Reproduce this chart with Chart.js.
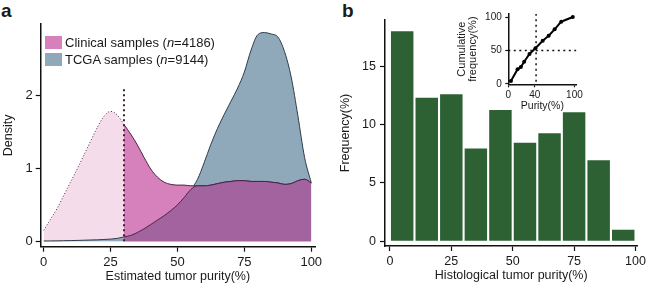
<!DOCTYPE html>
<html lang="en">
  <head>
    <meta charset="UTF-8" />
    <title>Tumor purity</title>
    <script src="https://cdn.jsdelivr.net/npm/chart.js"></script>
    <style>
      body {
        margin: 0;
        width: 649px;
        height: 289px;
        position: relative;
        background: #fff;
        font-family: "Liberation Sans", Arial, sans-serif;
        color: #1a1a1a;
        overflow: hidden;
      }
      .panel {
        position: absolute;
      }
      .tag {
        position: absolute;
        font-weight: bold;
        font-size: 19px;
        line-height: 1;
      }
      .legend {
        position: absolute;
        left: 45px;
        top: 35px;
        font-size: 13px;
      }
      .legend div {
        height: 15px;
        line-height: 15px;
        margin-bottom: 1.5px;
        white-space: nowrap;
      }
      .legend span.box {
        display: inline-block;
        width: 17px;
        height: 13px;
        vertical-align: -2px;
        margin-right: 3px;
      }
    </style>
  </head>
  <body>
    <div class="tag" style="left: 1px; top: 1px">a</div>
    <div class="tag" style="left: 342px; top: 1px">b</div>

    <div class="panel" style="left: 0; top: 0">
      <canvas id="densityChart" width="330" height="289"></canvas>
    </div>
    <div class="legend">
      <div><span class="box" style="background: #d681bb"></span>Clinical samples (<i>n</i>=4186)</div>
      <div><span class="box" style="background: #8fa9bb"></span>TCGA samples (<i>n</i>=9144)</div>
    </div>

    <div class="panel" style="left: 330px; top: 0">
      <canvas id="histChart" width="319" height="289"></canvas>
    </div>
    <div class="panel" style="left: 440px; top: 0">
      <canvas id="cumChart" width="145" height="112"></canvas>
    </div>

    <script>
      // panel a: density of estimated purity
      const purityGrid = [
        0, 2.5, 5, 7.5, 10, 12.5, 15, 17.5, 20, 22.5, 25, 27.5, 30, 32.5, 35,
        37.5, 40, 42.5, 45, 47.5, 50, 52.5, 55, 57.5, 60, 62.5, 65, 67.5, 70,
        72.5, 75, 77.5, 80, 82.5, 85, 87.5, 90, 92.5, 95, 97.5, 100,
      ];
      const clinicalDensity = [
        0.15, 0.3, 0.45, 0.63, 0.81, 0.99, 1.18, 1.37, 1.56, 1.71, 1.78, 1.73,
        1.6, 1.47, 1.32, 1.15, 0.99, 0.88, 0.81, 0.78, 0.77, 0.77, 0.76, 0.76,
        0.76, 0.77, 0.79, 0.81, 0.82, 0.83, 0.83, 0.82, 0.82, 0.82, 0.81, 0.8,
        0.78, 0.79, 0.83, 0.85, 0.8,
      ];
      const tcgaDensity = [
        0.005, 0.005, 0.006, 0.008, 0.01, 0.012, 0.015, 0.018, 0.02, 0.025,
        0.03, 0.04, 0.06, 0.08, 0.12, 0.17, 0.23, 0.29, 0.35, 0.42, 0.5, 0.6,
        0.71, 0.85, 1.08, 1.33, 1.55, 1.74, 1.92, 2.1, 2.32, 2.62, 2.83, 2.86,
        2.84, 2.8, 2.6, 2.25, 1.72, 1.15, 0.8,
      ];
      const cutoffPurity = 30;
      const cutoffTop = 2.1;
      const densityTicksX = [0, 25, 50, 75, 100];
      const densityTicksY = [0, 1, 2];

      // panel b: histological purity histogram
      const histBinMid = [5, 15, 25, 35, 45, 55, 65, 75, 85, 95];
      const histFreq = [18.0, 12.3, 12.6, 7.95, 11.25, 8.45, 9.25, 11.05, 6.95, 1.0];
      const histTicksX = [0, 25, 50, 75, 100];
      const histTicksY = [0, 5, 10, 15];

      // inset: cumulative frequency
      const cumPurity = [4, 14, 19, 24, 32, 41, 52, 61, 70, 80, 97.5];
      const cumFreq = [4.5, 22, 25.4, 33.3, 44.8, 53.3, 64.6, 72.1, 81.6, 93, 100];
      const insetCutoff = 42;
      const insetMedian = 50;
      const insetTicksX = [0, 40, 100];
      const insetTicksY = [0, 50, 100];

      const FONT = "'Liberation Sans', Arial, sans-serif";
      Chart.defaults.font.family = FONT;
      Chart.defaults.color = "#1a1a1a";

      function pts(xs, ys, keep) {
        const out = [];
        xs.forEach((x, i) => {
          if (!keep || keep(x)) out.push({ x: x, y: ys[i] });
        });
        return out;
      }

      function fixedTicks(list) {
        return (s) => {
          s.ticks = list.map((v) => ({ value: v }));
        };
      }

      function axis(opts) {
        return {
          type: "linear",
          min: opts.min,
          max: opts.max,
          offset: false,
          afterBuildTicks: fixedTicks(opts.ticks),
          afterFit: opts.fit,
          grid: {
            display: true,
            drawOnChartArea: false,
            drawTicks: true,
            tickLength: opts.tickLength || 5,
            tickColor: "#111",
            tickWidth: 1.2,
            offset: false,
          },
          border: { display: true, color: "#111", width: 1.5 },
          ticks: {
            padding: opts.pad,
            font: { size: opts.tickSize },
            color: "#1a1a1a",
            maxRotation: 0,
            autoSkip: false,
          },
          title: {
            display: true,
            text: opts.title,
            font: { size: opts.titleSize || 12.5, lineHeight: opts.titleLH || 1.2 },
            padding: opts.titlePad,
            color: "#1a1a1a",
          },
        };
      }

      const overlap = purityGrid.map((x, i) =>
        Math.min(clinicalDensity[i], tcgaDensity[i])
      );

      new Chart(document.getElementById("densityChart"), {
        type: "line",
        data: {
          datasets: [
            {
              data: [
                { x: cutoffPurity, y: 0 },
                { x: cutoffPurity, y: cutoffTop },
              ],
              borderColor: "#3b1d38",
              borderWidth: 2,
              borderDash: [2, 3],
              pointRadius: 0,
              fill: false,
              order: 0,
            },
            {
              data: pts(purityGrid, overlap, (x) => x >= cutoffPurity),
              borderColor: "#4a2448",
              borderWidth: 1,
              backgroundColor: "#a3639f",
              fill: "origin",
              pointRadius: 0,
              cubicInterpolationMode: "monotone",
              order: 1,
            },
            {
              data: pts(purityGrid, clinicalDensity, (x) => x >= cutoffPurity),
              borderColor: "#4a2448",
              borderWidth: 1,
              backgroundColor: "#d681bb",
              fill: "origin",
              pointRadius: 0,
              cubicInterpolationMode: "monotone",
              order: 2,
            },
            {
              data: pts(purityGrid, tcgaDensity),
              borderColor: "#2e3c4a",
              borderWidth: 1,
              backgroundColor: "#8fa9bb",
              fill: "origin",
              pointRadius: 0,
              cubicInterpolationMode: "monotone",
              order: 3,
            },
            {
              data: pts(purityGrid, clinicalDensity, (x) => x <= cutoffPurity),
              borderColor: "#4a2a46",
              borderWidth: 1,
              borderDash: [1, 2],
              backgroundColor: "#f4dcea",
              fill: "origin",
              pointRadius: 0,
              cubicInterpolationMode: "monotone",
              order: 4,
            },
          ],
        },
        options: {
          responsive: false,
          devicePixelRatio: 1,
          animation: false,
          layout: { padding: { top: 24, right: 15, left: 0, bottom: 0 } },
          plugins: { legend: { display: false }, tooltip: { enabled: false } },
          scales: {
            x: axis({
              min: -1.12,
              max: 101.4,
              ticks: densityTicksX,
              fit: (s) => (s.height = 42.3),
              pad: 3,
              tickSize: 13,
              title: "Estimated tumor purity(%)",
              titlePad: { top: 0, bottom: 5 },
            }),
            y: axis({
              min: -0.074,
              max: 2.977,
              ticks: densityTicksY,
              fit: (s) => (s.width = 40.7),
              pad: 3,
              tickSize: 13,
              title: "Density",
              titlePad: { top: 1, bottom: 0 },
            }),
          },
        },
      });

      new Chart(document.getElementById("histChart"), {
        type: "bar",
        data: {
          datasets: [
            {
              data: pts(histBinMid, histFreq),
              backgroundColor: "#2d6134",
              borderWidth: 0,
              barPercentage: 0.915,
              categoryPercentage: 1,
            },
          ],
        },
        options: {
          responsive: false,
          devicePixelRatio: 1,
          animation: false,
          layout: { padding: { top: 20, right: 9, left: 0, bottom: 0 } },
          plugins: { legend: { display: false }, tooltip: { enabled: false } },
          scales: {
            x: axis({
              min: -2,
              max: 100.8,
              ticks: histTicksX,
              fit: (s) => (s.height = 43),
              pad: 3,
              tickSize: 12.5,
              title: "Histological tumor purity(%)",
              titlePad: { top: 0, bottom: 6 },
            }),
            y: axis({
              min: -0.4,
              max: 18.96,
              ticks: histTicksY,
              fit: (s) => (s.width = 55),
              pad: 4,
              tickSize: 12.5,
              title: "Frequency(%)",
              titlePad: { top: 8, bottom: 0 },
            }),
          },
        },
      });

      new Chart(document.getElementById("cumChart"), {
        type: "line",
        data: {
          datasets: [
            {
              data: pts(cumPurity, cumFreq),
              borderColor: "#000",
              borderWidth: 2,
              pointRadius: 2,
              pointBackgroundColor: "#000",
              pointBorderWidth: 0,
              tension: 0,
              fill: false,
              order: 0,
            },
            {
              data: [
                { x: insetCutoff, y: -5 },
                { x: insetCutoff, y: 110 },
              ],
              borderColor: "#111",
              borderWidth: 1.5,
              borderDash: [2, 3.5],
              pointRadius: 0,
              fill: false,
              order: 1,
            },
            {
              data: [
                { x: 0, y: insetMedian },
                { x: 110, y: insetMedian },
              ],
              borderColor: "#111",
              borderWidth: 1.5,
              borderDash: [2, 3.5],
              pointRadius: 0,
              fill: false,
              order: 1,
            },
          ],
        },
        options: {
          responsive: false,
          devicePixelRatio: 1,
          animation: false,
          layout: { padding: { top: 14, right: 7, left: 0, bottom: 0 } },
          plugins: { legend: { display: false }, tooltip: { enabled: false } },
          scales: {
            x: axis({
              min: 0,
              max: 103,
              ticks: insetTicksX,
              fit: (s) => (s.height = 27.7),
              pad: 2,
              tickLength: 3,
              tickSize: 10,
              title: "Purity(%)",
              titleSize: 10.5,
              titlePad: { top: 0, bottom: 0 },
            }),
            y: axis({
              min: -0.45,
              max: 104.5,
              ticks: insetTicksY,
              fit: (s) => (s.width = 68.3),
              pad: 3.5,
              tickLength: 3,
              tickSize: 10,
              title: ["Cumulative", "frequency(%)"],
              titleSize: 11,
              titleLH: 1.05,
              titlePad: { top: 16, bottom: 0 },
            }),
          },
        },
      });
    </script>
  </body>
</html>
